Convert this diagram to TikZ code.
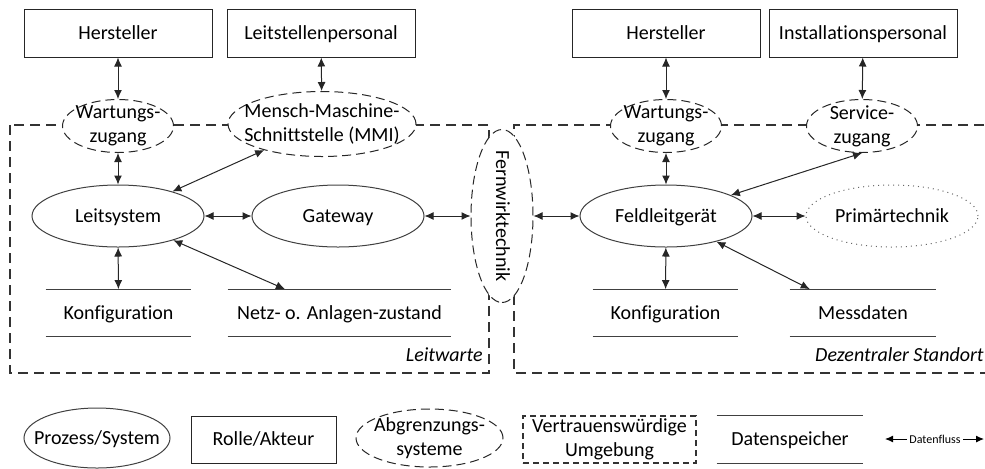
\documentclass[tikz,border=0pt]{standalone}
\usepackage{fontspec}
\setmainfont{Carlito}[Ligatures=NoCommon]
\usetikzlibrary{shapes.geometric,arrows.meta,calc}
\begin{document}
\begin{tikzpicture}[x=0.5pt,y=-0.5pt,
  oneline/.style={text height=8pt, text depth=2pt},
  role/.style={draw=black!85, line width=0.5pt, minimum width=94pt, minimum height=24pt, inner sep=0pt, oneline},
  proc/.style={ellipse, draw=black!75, line width=0.5pt, minimum width=86pt, minimum height=31pt, inner xsep=-40pt, inner ysep=-10pt, oneline},
  bound/.style={ellipse, draw=black!85, dash pattern=on 4.5pt off 2.5pt, line width=0.5pt, fill=white, inner xsep=-40pt, inner ysep=-15pt, align=center},
  store/.style={minimum height=23.5pt, inner sep=0pt, oneline},
  storeline/.style={draw=black!75, line width=0.5pt},
  flow/.style={{Latex[length=4.5pt,width=4pt]}-{Latex[length=4.5pt,width=4pt]}, line width=0.5pt, draw=black!85},
  trust/.style={draw=black!80, dash pattern=on 5pt off 3pt, line width=0.6pt}
]
\useasboundingbox (0,0) rectangle (985,468);
\clip (0,0) rectangle (985,468);

% trusted environments
\draw[trust] (10,125) rectangle (489,373);
\draw[trust] (1000,125) -- (514,125) -- (514,373) -- (1000,373);
\node[anchor=east, font=\itshape, inner sep=0pt, oneline] (lw) at (483,355) {Leitwarte};
\node[anchor=east, font=\itshape, inner sep=0pt, oneline] (dz) at (984,355) {Dezentraler Standort};

% roles
\node[role] (hL) at (118,33) {Hersteller};
\node[role] (lp) at (321,33) {Leitstellenpersonal};
\node[role] (hR) at (666,33) {Hersteller};
\node[role] (ip) at (863,33) {Installationspersonal};

% boundary systems
\node[bound, minimum width=55.5pt, minimum height=26.5pt] (wzL) at (118,126) {Wartungs-\\zugang};
\node[bound, minimum width=94pt, minimum height=32.5pt] (mmi) at (322,124) {Mensch-Maschine-\\Schnittstelle (MMI)};
\node[bound, minimum width=55.5pt, minimum height=26.5pt] (wzR) at (666,126) {Wartungs-\\zugang};
\node[bound, minimum width=55.5pt, minimum height=26.5pt] (sz) at (862,126) {Service-\\zugang};
\node[bound, rotate=-90, minimum width=86.5pt, minimum height=31pt, oneline] (fw) at (502,216) {Fernwirktechnik};

% processes
\node[proc] (leit) at (118,216) {Leitsystem};
\node[proc] (gw) at (338,216) {Gateway};
\node[proc] (feld) at (666,216) {Feldleitgerät};
\node[proc, draw=black!60, dotted] (prim) at (892,216) {Primärtechnik};

% data stores
\node[store, minimum width=72.5pt] (konfL) at (118.5,313) {Konfiguration};
\node[store, minimum width=111.5pt] (netz) at (339.5,313) {Netz- o. Anlagen-zustand};
\node[store, minimum width=72.5pt] (konfR) at (665.5,313) {Konfiguration};
\node[store, minimum width=73pt] (mess) at (863,313) {Messdaten};
\coordinate (netzIn) at ($(netz.north west)!0.256!(netz.north east)$);
\coordinate (messIn) at ($(mess.north west)!0.137!(mess.north east)$);

% flows
\draw[flow] (hL) -- (wzL);
\draw[flow] (lp) -- (mmi);
\draw[flow] (wzL) -- (leit);
\draw[flow] (mmi) -- (leit);
\draw[flow] (leit) -- (gw);
\draw[flow] (gw) -- (fw);
\draw[flow] (leit) -- (konfL);
\draw[flow] (leit) -- (netzIn);
\draw[flow] (fw) -- (feld);
\draw[flow] (hR) -- (wzR);
\draw[flow] (ip) -- (sz);
\draw[flow] (wzR) -- (feld);
\draw[flow] (sz.south) -- (feld);
\draw[flow] (feld) -- (prim);
\draw[flow] (feld) -- (konfR);
\draw[flow] (feld) -- (messIn);

% legend
\node[proc, minimum width=73pt, minimum height=30pt] (lgP) at (97,438) {Prozess/System};
\node[role, minimum width=72.5pt, minimum height=23.5pt] (lgR) at (263.5,439.5) {Rolle/Akteur};
\node[bound, minimum width=73.5pt, minimum height=29pt] (lgA) at (429.5,438) {Abgrenzungs-\\systeme};
\node[draw=black!80, dash pattern=on 3pt off 2pt, line width=0.6pt, minimum width=86.5pt, minimum height=23.5pt, inner sep=0pt, align=center] (lgV) at (609.5,439.5) {Vertrauenswürdige\\Umgebung};
\node[store, minimum width=73pt] (lgD) at (790,439.5) {Datenspeicher};
\node[font=\fontsize{6}{7}\selectfont, inner sep=1pt] (df) at (935,439) {Datenfluss};
\coordinate (dfL) at (885,439);
\coordinate (dfR) at (984,439);
\draw[-{Latex[length=4pt,width=3.5pt]}, line width=0.5pt] (df) -- (dfL);
\draw[-{Latex[length=4pt,width=3.5pt]}, line width=0.5pt] (df) -- (dfR);

\foreach \n in {konfL,netz,konfR,mess,lgD}
  \draw[storeline] (\n.north west) -- (\n.north east) (\n.south west) -- (\n.south east);
\end{tikzpicture}
\end{document}
